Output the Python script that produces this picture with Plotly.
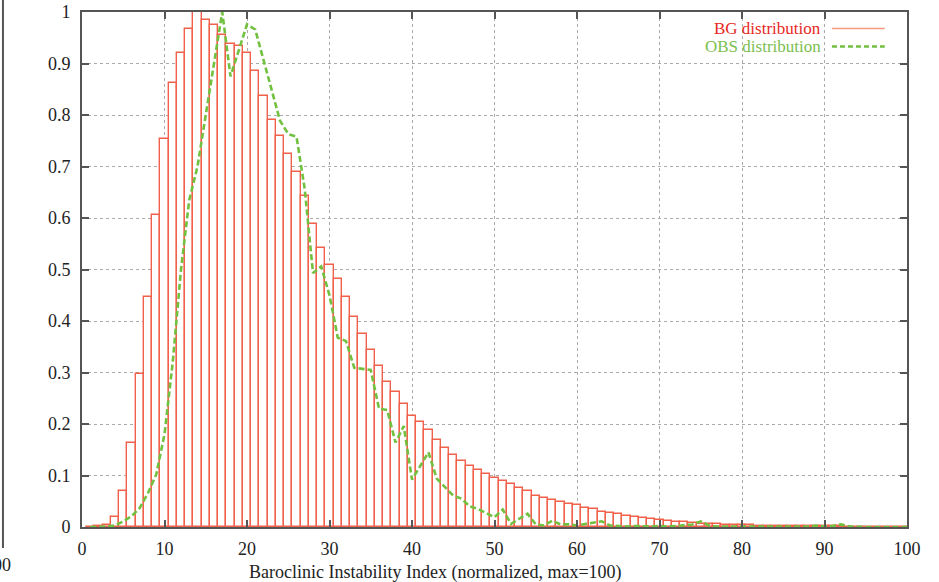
import plotly.graph_objects as go

bins = list(range(1, 101))
bg_values = [
    0.0005, 0.001, 0.004, 0.02, 0.069, 0.163, 0.298, 0.446, 0.606, 0.753,
    0.862, 0.921, 0.967, 1.0, 0.984, 0.975, 0.956, 0.938, 0.934, 0.921,
    0.886, 0.836, 0.791, 0.760, 0.724, 0.690, 0.642, 0.589, 0.542, 0.509,
    0.482, 0.447, 0.407, 0.374, 0.343, 0.312, 0.282, 0.263, 0.238, 0.216,
    0.203, 0.188, 0.168, 0.153, 0.139, 0.128, 0.118, 0.110, 0.102, 0.095,
    0.089, 0.084, 0.076, 0.070, 0.061, 0.057, 0.052, 0.048, 0.044, 0.042,
    0.037, 0.034, 0.030, 0.028, 0.025, 0.022, 0.019, 0.017, 0.015, 0.014,
    0.012, 0.010, 0.009, 0.008, 0.0065, 0.006, 0.005, 0.0045, 0.004, 0.0035,
    0.003, 0.0028, 0.0025, 0.0022, 0.002, 0.0018, 0.0016, 0.0015, 0.0013, 0.0012,
    0.001, 0.001, 0.0009, 0.0008, 0.0007, 0.0006, 0.0005, 0.0005, 0.0004, 0.0003,
]
obs_values = [
    0.0, 0.0, 0.001, 0.003, 0.011, 0.021, 0.037, 0.066, 0.102, 0.18,
    0.32, 0.50, 0.635, 0.70, 0.80, 0.906, 1.0, 0.875, 0.926, 0.976,
    0.966, 0.908, 0.85, 0.789, 0.763, 0.758, 0.656, 0.493, 0.506, 0.45,
    0.368, 0.361, 0.309, 0.307, 0.305, 0.23, 0.227, 0.164, 0.196, 0.092,
    0.119, 0.145, 0.094, 0.077, 0.061, 0.055, 0.040, 0.035, 0.027, 0.019,
    0.034, 0.006, 0.016, 0.026, 0.005, 0.003, 0.012, 0.005, 0.005, 0.003,
    0.006, 0.008, 0.011, 0.003, 0.002, 0.001, 0.002, 0.001, 0.001, 0.002,
    0.001, 0.002, 0.003, 0.005, 0.011, 0.003, 0.001, 0.001, 0.001, 0.002,
    0.001, 0.001, 0.001, 0.001, 0.001, 0.001, 0.002, 0.001, 0.003, 0.001,
    0.002, 0.005, 0.001, 0.0, 0.0, 0.0, 0.0, 0.0, 0.0, 0.0,
]
x_ticks = list(range(0, 101, 10))
y_ticks = [round(i * 0.1, 1) for i in range(11)]
y_tick_text = ["0", "0.1", "0.2", "0.3", "0.4", "0.5", "0.6", "0.7", "0.8", "0.9", "1"]

BG_COLOR = "#f0604a"
OBS_COLOR = "#72c040"
FONT = "Liberation Serif"
FS = 18

fig = go.Figure()
fig.add_trace(go.Bar(
    x=bins, y=bg_values, width=1.0,
    marker=dict(color="white", line=dict(color=BG_COLOR, width=1.4)),
    name="BG distribution", showlegend=False,
))
fig.add_trace(go.Scatter(
    x=bins, y=obs_values, mode="lines",
    line=dict(color=OBS_COLOR, width=2.6, dash="6px,3px"),
    name="OBS distribution", showlegend=False,
))

axis_common = dict(
    showline=True, linecolor="#555555", linewidth=2, mirror="allticks",
    ticks="inside", ticklen=7, tickwidth=2, tickcolor="#555555",
    showgrid=True, gridcolor="#aaaaaa", griddash="dot", gridwidth=1,
    zeroline=False, layer="above traces", automargin=False,
    tickfont=dict(family=FONT, size=FS, color="#222222"),
)
fig.update_xaxes(range=[0, 100], tickvals=x_ticks, ticklabelstandoff=4, **axis_common)
fig.update_yaxes(range=[0, 1], tickvals=y_ticks, ticktext=y_tick_text,
                 ticklabelstandoff=6, **axis_common)

# gnuplot-style key (text on left, sample line on right)
fig.add_annotation(xref="paper", yref="paper", x=0.897, y=0.968, xanchor="right", yanchor="middle",
                   text="BG distribution", showarrow=False, borderpad=0,
                   font=dict(family=FONT, size=17, color="#e8281e"))
fig.add_annotation(xref="paper", yref="paper", x=0.897, y=0.933, xanchor="right", yanchor="middle",
                   text="OBS distribution", showarrow=False, borderpad=0,
                   font=dict(family=FONT, size=17, color="#7cc050"))
fig.add_shape(type="line", xref="paper", yref="paper", x0=0.909, x1=0.973, y0=0.968, y1=0.968,
              line=dict(color="#f4977a", width=1.6))
fig.add_shape(type="line", xref="paper", yref="paper", x0=0.909, x1=0.973, y0=0.933, y1=0.933,
              line=dict(color=OBS_COLOR, width=2.4, dash="5px,3px"))

# x-axis title
fig.add_annotation(xref="paper", yref="paper", x=0.428, y=-0.0874, xanchor="center", yanchor="middle",
                   text="Baroclinic Instability Index (normalized, max=100)", showarrow=False,
                   font=dict(family=FONT, size=FS, color="#222222"))

# cropped neighbouring panel at the far left edge
fig.add_shape(type="line", xref="paper", yref="paper", x0=-0.0958, x1=-0.0958, y0=1.03, y1=-0.041,
              line=dict(color="#555555", width=2))
fig.add_annotation(xref="paper", yref="paper", x=-0.0836, y=-0.0738, xanchor="right", yanchor="middle",
                   text="100", showarrow=False,
                   font=dict(family=FONT, size=FS, color="#222222"))

fig.update_layout(
    width=939, height=582,
    margin=dict(l=82, r=32, t=12, b=55),
    plot_bgcolor="white", paper_bgcolor="white",
    barmode="overlay", bargap=0,
    showlegend=False,
)

fig.write_html("out.html", config={"displayModeBar": False},
               post_script="document.body.style.margin='0px';document.body.style.padding='0px';")
